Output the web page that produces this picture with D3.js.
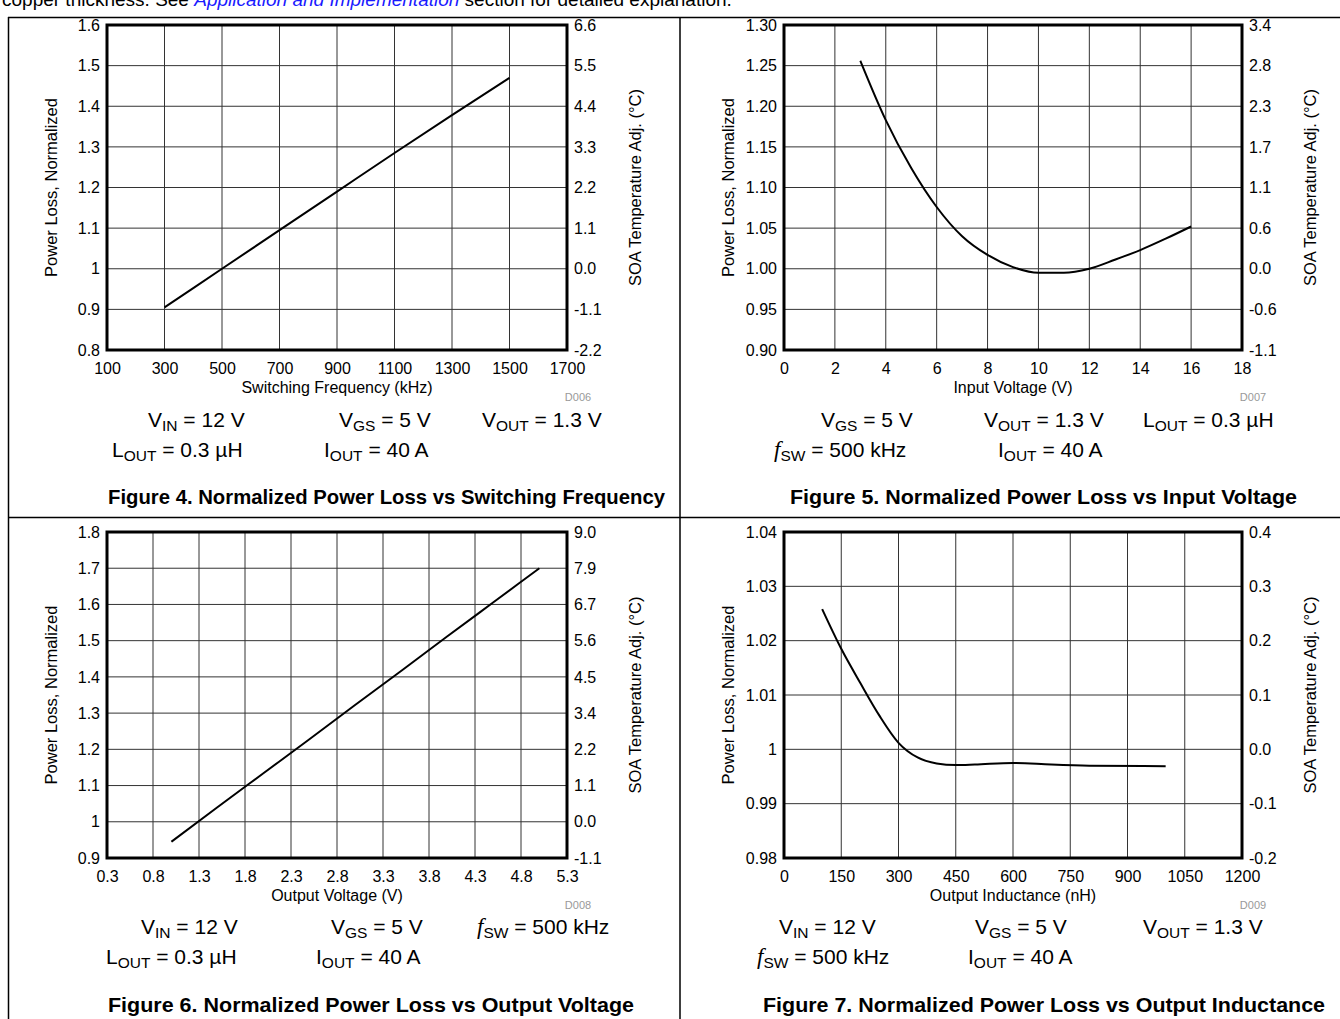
<!DOCTYPE html>
<html>
<head>
<meta charset="utf-8">
<script src="https://cdn.jsdelivr.net/npm/d3@7"></script>
<style>
  body { margin: 0; background: #fff; }
  svg { display: block; font-family: "Liberation Sans", Arial, sans-serif; }
</style>
</head>
<body>
<svg id="chart" width="1340" height="1019"></svg>
<script>
// Figure 4: power loss vs switching frequency
const fig4Freq = [300, 500, 700, 900, 1100, 1300, 1500];
const fig4Loss = [0.905, 1.0, 1.095, 1.19, 1.285, 1.378, 1.47];
const fig4XTicks = [100, 300, 500, 700, 900, 1100, 1300, 1500, 1700];
const fig4YTicks = ['0.8', '0.9', '1', '1.1', '1.2', '1.3', '1.4', '1.5', '1.6'];
const fig4RTicks = ['-2.2', '-1.1', '0.0', '1.1', '2.2', '3.3', '4.4', '5.5', '6.6'];

// Figure 5: power loss vs input voltage
const fig5Vin = [3, 4, 5, 6, 7, 8, 9, 10, 11, 12, 13, 14, 15, 16];
const fig5Loss = [1.256, 1.183, 1.124, 1.076, 1.04, 1.017, 1.002, 0.995, 0.995, 1.0, 1.011, 1.023, 1.037, 1.052];
const fig5XTicks = [0, 2, 4, 6, 8, 10, 12, 14, 16, 18];
const fig5YTicks = ['0.90', '0.95', '1.00', '1.05', '1.10', '1.15', '1.20', '1.25', '1.30'];
const fig5RTicks = ['-1.1', '-0.6', '0.0', '0.6', '1.1', '1.7', '2.3', '2.8', '3.4'];

// Figure 6: power loss vs output voltage
const fig6Vout = [1.0, 1.5, 2.0, 2.5, 3.0, 3.5, 4.0, 4.5, 5.0];
const fig6Loss = [0.945, 1.04, 1.134, 1.228, 1.323, 1.417, 1.512, 1.606, 1.70];
const fig6XTicks = [0.3, 0.8, 1.3, 1.8, 2.3, 2.8, 3.3, 3.8, 4.3, 4.8, 5.3];
const fig6YTicks = ['0.9', '1', '1.1', '1.2', '1.3', '1.4', '1.5', '1.6', '1.7', '1.8'];
const fig6RTicks = ['-1.1', '0.0', '1.1', '2.2', '3.4', '4.5', '5.6', '6.7', '7.9', '9.0'];

// Figure 7: power loss vs output inductance
const fig7Lout = [100, 150, 200, 250, 300, 350, 400, 450, 500, 600, 700, 800, 1000];
const fig7Loss = [1.0258, 1.0185, 1.0122, 1.0062, 1.0012, 0.9985, 0.9974, 0.9971, 0.9972, 0.9975, 0.9972, 0.997, 0.9969];
const fig7XTicks = [0, 150, 300, 450, 600, 750, 900, 1050, 1200];
const fig7YTicks = ['0.98', '0.99', '1', '1.01', '1.02', '1.03', '1.04'];
const fig7RTicks = ['-0.2', '-0.1', '0.0', '0.1', '0.2', '0.3', '0.4'];

const svg = d3.select('#chart');

// page text cut off at top
const headLine = svg.append('text').attr('x', 2).attr('y', 6).attr('font-size', 19);
headLine.append('tspan').text('copper thickness. See ');
headLine.append('tspan').attr('fill', '#1a1aff').attr('font-style', 'italic').text('Application and Implementation');
headLine.append('tspan').text(' section for detailed explanation.');

// table lines
const rules = [
  [8, 17.5, 1340, 17.5], [8, 517.5, 1340, 517.5],
  [8.5, 17, 8.5, 1019], [680, 17, 680, 1019]
];
svg.selectAll('line.rule').data(rules).enter().append('line')
  .attr('x1', d => d[0]).attr('y1', d => d[1]).attr('x2', d => d[2]).attr('y2', d => d[3])
  .attr('stroke', '#000').attr('stroke-width', 1.5);

function panel(o) {
  const g = svg.append('g');
  const x = d3.scaleLinear().domain([o.xTicks[0], o.xTicks[o.xTicks.length - 1]]).range([o.left, o.right]);
  const yVals = o.yTicks.map(Number);
  const y = d3.scaleLinear().domain([yVals[0], yVals[yVals.length - 1]]).range([o.bottom, o.top]);

  // grid
  g.selectAll('line.gx').data(o.xTicks.slice(1, -1)).enter().append('line')
    .attr('x1', d => x(d)).attr('x2', d => x(d)).attr('y1', o.top).attr('y2', o.bottom)
    .attr('stroke', '#333').attr('stroke-width', 1);
  g.selectAll('line.gy').data(yVals.slice(1, -1)).enter().append('line')
    .attr('y1', d => y(d)).attr('y2', d => y(d)).attr('x1', o.left).attr('x2', o.right)
    .attr('stroke', '#333').attr('stroke-width', 1);

  // axes
  const ax = g.append('g').attr('transform', `translate(0,${o.bottom})`)
    .call(d3.axisBottom(x).tickValues(o.xTicks).tickSize(0).tickPadding(13).tickFormat(d => String(d)));
  const ay = g.append('g').attr('transform', `translate(${o.left},0)`)
    .call(d3.axisLeft(y).tickValues(yVals).tickSize(0).tickPadding(7).tickFormat((d, i) => o.yTicks[i]));
  const ar = g.append('g').attr('transform', `translate(${o.right},0)`)
    .call(d3.axisRight(y).tickValues(yVals).tickSize(0).tickPadding(7).tickFormat((d, i) => o.rTicks[i]));
  [ax, ay, ar].forEach(a => {
    a.select('.domain').remove();
    a.selectAll('text').attr('font-size', 16).attr('fill', '#000')
      .attr('font-family', '"Liberation Sans", Arial, sans-serif');
  });

  // frame
  g.append('rect').attr('x', o.left).attr('y', o.top)
    .attr('width', o.right - o.left).attr('height', o.bottom - o.top)
    .attr('fill', 'none').attr('stroke', '#000').attr('stroke-width', 3);

  // series
  const pts = o.xs.map((v, i) => [v, o.ys[i]]);
  g.append('path').datum(pts)
    .attr('d', d3.line().x(d => x(d[0])).y(d => y(d[1])).curve(d3.curveMonotoneX))
    .attr('fill', 'none').attr('stroke', '#000').attr('stroke-width', 2);

  // titles
  const midY = (o.top + o.bottom) / 2;
  g.append('text').attr('transform', `translate(${o.left - 50},${midY}) rotate(-90)`)
    .attr('text-anchor', 'middle').attr('font-size', 16.5).text('Power Loss, Normalized');
  g.append('text').attr('transform', `translate(${o.right + 74},${midY}) rotate(-90)`)
    .attr('text-anchor', 'middle').attr('font-size', 16.5).text('SOA Temperature Adj. (°C)');
  g.append('text').attr('x', (o.left + o.right) / 2).attr('y', o.bottom + 43)
    .attr('text-anchor', 'middle').attr('font-size', 16).text(o.xTitle);
  g.append('text').attr('x', o.right + 11).attr('y', o.bottom + 51)
    .attr('text-anchor', 'middle').attr('font-size', 11).attr('fill', '#999').text(o.code);

  // conditions
  o.conds.forEach(c => {
    const t = g.append('text').attr('x', c.x).attr('y', o.bottom + c.dy).attr('font-size', 21);
    c.parts.forEach(p => {
      const s = t.append('tspan').text(p.t);
      if (p.sub) s.attr('font-size', 15.5).attr('dy', 4);
      if (p.back) s.attr('dy', -4);
      if (p.f) s.attr('font-family', '"Liberation Serif", serif').attr('font-style', 'italic').attr('font-size', 23);
    });
  });

  g.append('text').attr('x', o.capX).attr('y', o.bottom + 154)
    .attr('font-size', 21).attr('font-weight', 'bold')
    .attr('textLength', o.capW).attr('lengthAdjust', 'spacingAndGlyphs').text(o.caption);
}

const VIN = [{t: 'V'}, {t: 'IN', sub: 1}, {t: ' = 12 V', back: 1}];
const VGS = [{t: 'V'}, {t: 'GS', sub: 1}, {t: ' = 5 V', back: 1}];
const VOUT = [{t: 'V'}, {t: 'OUT', sub: 1}, {t: ' = 1.3 V', back: 1}];
const LOUT = [{t: 'L'}, {t: 'OUT', sub: 1}, {t: ' = 0.3 µH', back: 1}];
const IOUT = [{t: 'I'}, {t: 'OUT', sub: 1}, {t: ' = 40 A', back: 1}];
const FSW = [{t: 'f', f: 1}, {t: 'SW', sub: 1}, {t: ' = 500 kHz', back: 1}];

panel({
  left: 107, right: 567, top: 25, bottom: 350,
  xs: fig4Freq, ys: fig4Loss, xTicks: fig4XTicks, yTicks: fig4YTicks, rTicks: fig4RTicks,
  xTitle: 'Switching Frequency (kHz)', code: 'D006',
  conds: [
    {x: 148, dy: 77, parts: VIN}, {x: 339, dy: 77, parts: VGS}, {x: 482, dy: 77, parts: VOUT},
    {x: 112, dy: 107, parts: LOUT}, {x: 324, dy: 107, parts: IOUT}
  ],
  capX: 108, capW: 557, caption: 'Figure 4. Normalized Power Loss vs Switching Frequency'
});

panel({
  left: 784, right: 1242, top: 25, bottom: 350,
  xs: fig5Vin, ys: fig5Loss, xTicks: fig5XTicks, yTicks: fig5YTicks, rTicks: fig5RTicks,
  xTitle: 'Input Voltage (V)', code: 'D007',
  conds: [
    {x: 821, dy: 77, parts: VGS}, {x: 984, dy: 77, parts: VOUT}, {x: 1143, dy: 77, parts: LOUT},
    {x: 774, dy: 107, parts: FSW}, {x: 998, dy: 107, parts: IOUT}
  ],
  capX: 790, capW: 507, caption: 'Figure 5. Normalized Power Loss vs Input Voltage'
});

panel({
  left: 107, right: 567, top: 532, bottom: 858,
  xs: fig6Vout, ys: fig6Loss, xTicks: fig6XTicks, yTicks: fig6YTicks, rTicks: fig6RTicks,
  xTitle: 'Output Voltage (V)', code: 'D008',
  conds: [
    {x: 141, dy: 76, parts: VIN}, {x: 331, dy: 76, parts: VGS}, {x: 477, dy: 76, parts: FSW},
    {x: 106, dy: 106, parts: LOUT}, {x: 316, dy: 106, parts: IOUT}
  ],
  capX: 108, capW: 526, caption: 'Figure 6. Normalized Power Loss vs Output Voltage'
});

panel({
  left: 784, right: 1242, top: 532, bottom: 858,
  xs: fig7Lout, ys: fig7Loss, xTicks: fig7XTicks, yTicks: fig7YTicks, rTicks: fig7RTicks,
  xTitle: 'Output Inductance (nH)', code: 'D009',
  conds: [
    {x: 779, dy: 76, parts: VIN}, {x: 975, dy: 76, parts: VGS}, {x: 1143, dy: 76, parts: VOUT},
    {x: 757, dy: 106, parts: FSW}, {x: 968, dy: 106, parts: IOUT}
  ],
  capX: 763, capW: 562, caption: 'Figure 7. Normalized Power Loss vs Output Inductance'
});
</script>
</body>
</html>
